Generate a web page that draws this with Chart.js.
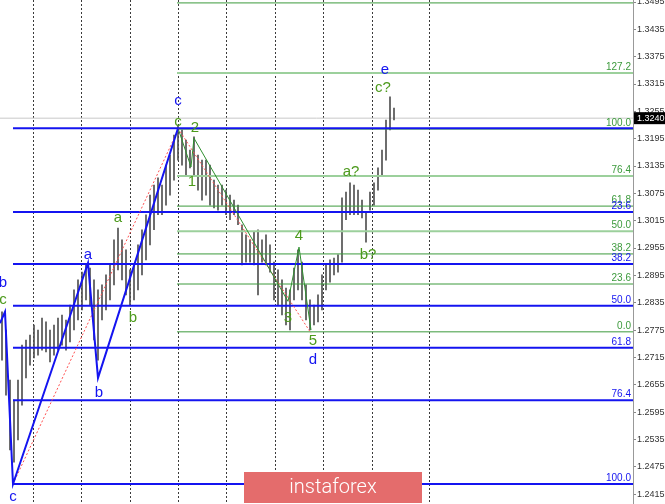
<!DOCTYPE html>
<html>
<head>
<meta charset="utf-8">
<script src="https://cdn.jsdelivr.net/npm/chart.js@4.4.1/dist/chart.umd.min.js"></script>
<style>
  html, body { margin: 0; padding: 0; background: #ffffff; }
  #wrap { width: 665px; height: 504px; }
</style>
</head>
<body>
<div id="wrap"><canvas id="chart" width="665" height="504"></canvas></div>
<script>
// right-hand price scale
const priceTicks = [1.2415, 1.2475, 1.2535, 1.2595, 1.2655, 1.2715, 1.2775, 1.2835, 1.2895,
  1.2955, 1.3015, 1.3075, 1.3135, 1.3195, 1.3255, 1.3315, 1.3375, 1.3435, 1.3495];
// day separators, in bar units
const daySeparators = [7.75, 19.75, 32, 44, 56, 68.25, 80.25, 92.5, 107];
const lastPrice = 1.3240;

// bars (high / low), one per slot
const barHigh = [
  1.2815, 1.2775, 1.2665, 1.2621, 1.2665, 1.2742, 1.2753, 1.2764, 1.2786, 1.2775,
  1.2801, 1.2793, 1.2775, 1.2786, 1.2801, 1.2808, 1.2797, 1.2830, 1.2863, 1.2885,
  1.2902, 1.2918, 1.2911, 1.2885, 1.2863, 1.2874, 1.2896, 1.2918, 1.2973, 1.2999,
  1.2973, 1.2951, 1.2907, 1.2918, 1.2962, 1.2995, 1.3028, 1.3071, 1.3093, 1.3109,
  1.3093, 1.3137, 1.3159, 1.3203, 1.3225, 1.3214, 1.3192, 1.3170, 1.3199, 1.3159,
  1.3148, 1.3148, 1.3137, 1.3104, 1.3093, 1.3093, 1.3082, 1.3071, 1.3060, 1.3049,
  1.3006, 1.2984, 1.2973, 1.2990, 1.2995, 1.2973, 1.2984, 1.2962, 1.2924, 1.2907,
  1.2885, 1.2867, 1.2863, 1.2911, 1.2951, 1.2924, 1.2874, 1.2841, 1.2830, 1.2852,
  1.2896, 1.2918, 1.2929, 1.2933, 1.2940, 1.3065, 1.3078, 1.3098, 1.3093, 1.3082,
  1.3060, 1.3034, 1.3078, 1.3098, 1.3131, 1.3170, 1.3236, 1.3287, 1.3262
];
const barLow = [
  1.2709, 1.2632, 1.2512, 1.2485, 1.2534, 1.2610, 1.2670, 1.2698, 1.2714, 1.2720,
  1.2731, 1.2727, 1.2705, 1.2720, 1.2731, 1.2742, 1.2731, 1.2749, 1.2775, 1.2797,
  1.2819, 1.2841, 1.2830, 1.2753, 1.2709, 1.2797, 1.2819, 1.2841, 1.2874, 1.2907,
  1.2885, 1.2852, 1.2830, 1.2841, 1.2863, 1.2896, 1.2929, 1.2962, 1.2995, 1.3028,
  1.3028, 1.3049, 1.3071, 1.3104, 1.3148, 1.3137, 1.3115, 1.3131, 1.3115, 1.3082,
  1.3060, 1.3071, 1.3049, 1.3043, 1.3038, 1.3049, 1.3028, 1.3017, 1.3028, 1.3006,
  1.2918, 1.2924, 1.2924, 1.2918, 1.2852, 1.2924, 1.2918, 1.2902, 1.2841, 1.2830,
  1.2808, 1.2786, 1.2775, 1.2841, 1.2863, 1.2841, 1.2797, 1.2775, 1.2786, 1.2793,
  1.2819, 1.2863, 1.2880, 1.2896, 1.2902, 1.2924, 1.3017, 1.3028, 1.3028, 1.3028,
  1.3021, 1.2968, 1.3038, 1.3049, 1.3082, 1.3115, 1.3148, 1.3214, 1.3236
];

// green fibo grid
const greenLevels = [1.2771, 1.2876, 1.2942, 1.2992, 1.3047, 1.3113, 1.3216, 1.3339, 1.3493];
const greenLabels = ["0.0", "23.6", "38.2", "50.0", "61.8", "76.4", "100.0", "127.2", "161.8"];
const greenHeavy = [false, false, false, true, false, true, false, true, false];
const greenStart = 43.75;
// blue fibo grid
const blueLevels = [1.3218, 1.3034, 1.2920, 1.2828, 1.2736, 1.2621, 1.2437];
const blueLabels = ["", "23.6", "38.2", "50.0", "61.8", "76.4", "100.0"];
const blueStart = 2.75;

// wave lines
const blueWaveX = [-0.5, 0.75, 2.75, 21.5, 24, 44];
const blueWaveY = [1.2790, 1.2815, 1.2437, 1.2922, 1.2670, 1.3218];
const greenWaveX = [44, 47.25, 48, 71.5, 74.25, 77.25];
const greenWaveY = [1.3218, 1.3133, 1.3196, 1.2838, 1.2957, 1.2775];
const redUpX = [2.75, 44];
const redUpY = [1.2437, 1.3214];
const redDownX = [44, 77.25];
const redDownY = [1.3218, 1.2768];

// wave labels
const blueMarks = ["b", "c", "a", "b", "c", "d", "e"];
const blueMarkX = [0.25, 2.75, 21.5, 24.25, 44, 77.75, 95.75];
const blueMarkY = [1.2878, 1.2408, 1.2940, 1.2637, 1.3278, 1.2709, 1.3346];
const greenMarks = ["c", "a", "b", "c", "2", "1", "3", "4", "5", "a?", "b?", "c?"];
const greenMarkX = [0.25, 29, 32.75, 44, 48.25, 47.5, 71.5, 74.25, 77.75, 87.25, 91.5, 95.25];
const greenMarkY = [1.2841, 1.3021, 1.2801, 1.3232, 1.3218, 1.3100, 1.2801, 1.2981, 1.2751, 1.3122, 1.2940, 1.3306];

const X_MIN = -0.5;
const X_MAX = 157.75;
const Y_MIN = 1.23931;
const Y_MAX = 1.34994;

const BLUE = "#1414f0";
const GREEN = "#3c9a3c";
const GREEN_LIGHT = "#9cd09c";
const LABEL_GREEN = "#4c9a1c";

function pts(xs, ys) {
  return xs.map((x, i) => ({ x: x, y: ys[i] }));
}

function hLine(y, from, color, width) {
  return {
    type: "line",
    data: [{ x: from, y: y }, { x: X_MAX, y: y }],
    borderColor: color,
    borderWidth: width,
    pointRadius: 0,
    order: 5,
  };
}

const datasets = [];

// bars
datasets.push({
  type: "bar",
  data: barHigh.map((h, i) => ({ x: i, y: [barLow[i], h] })),
  backgroundColor: "#505050",
  barThickness: 1,
  order: 8,
});

datasets.push(hLine(lastPrice, X_MIN, "#c8c8c8", 1));
datasets[datasets.length - 1].order = 9;

greenLevels.forEach((lvl, i) => {
  const ds = hLine(lvl, greenStart, greenHeavy[i] ? GREEN_LIGHT : GREEN, greenHeavy[i] ? 2 : 1);
  ds.order = 7;
  datasets.push(ds);
});
blueLevels.forEach((lvl) => {
  datasets.push(hLine(lvl, blueStart, BLUE, 2));
});

datasets.push({
  type: "line",
  data: pts(redUpX, redUpY),
  borderColor: "#ff5050",
  borderWidth: 1,
  borderDash: [2, 2],
  pointRadius: 0,
  order: 3,
});
datasets.push({
  type: "line",
  data: pts(redDownX, redDownY),
  borderColor: "#ff5050",
  borderWidth: 1,
  borderDash: [2, 2],
  pointRadius: 0,
  order: 3,
});
datasets.push({
  type: "line",
  data: pts(greenWaveX, greenWaveY),
  borderColor: "#2f8f2f",
  borderWidth: 1,
  pointRadius: 0,
  order: 2,
});
datasets.push({
  type: "line",
  data: pts(blueWaveX, blueWaveY),
  borderColor: BLUE,
  borderWidth: 2,
  pointRadius: 0,
  order: 1,
});

/**
 * Level captions, wave marks, price box and watermark
 */
const annotations = {
  id: "annotations",
  afterDatasetsDraw(chart) {
    const { ctx, chartArea, scales } = chart;
    const xs = scales.x;
    const ys = scales.y;
    ctx.save();

    // fibo captions
    ctx.font = "10px 'Liberation Sans', Arial, sans-serif";
    ctx.textAlign = "right";
    ctx.textBaseline = "bottom";
    greenLevels.forEach((lvl, i) => {
      ctx.fillStyle = GREEN;
      ctx.fillText(greenLabels[i], chartArea.right - 2, ys.getPixelForValue(lvl) - 1);
    });
    blueLevels.forEach((lvl, i) => {
      if (!blueLabels[i]) return;
      ctx.fillStyle = BLUE;
      ctx.fillText(blueLabels[i], chartArea.right - 2, ys.getPixelForValue(lvl) - 1);
    });

    // wave marks
    ctx.textAlign = "center";
    ctx.textBaseline = "middle";
    ctx.font = "15px 'Liberation Sans', Arial, sans-serif";
    blueMarks.forEach((t, i) => {
      ctx.fillStyle = BLUE;
      ctx.fillText(t, xs.getPixelForValue(blueMarkX[i]), ys.getPixelForValue(blueMarkY[i]));
    });
    greenMarks.forEach((t, i) => {
      ctx.fillStyle = LABEL_GREEN;
      ctx.fillText(t, xs.getPixelForValue(greenMarkX[i]), ys.getPixelForValue(greenMarkY[i]));
    });

    // watermark
    ctx.fillStyle = "#e46c6c";
    ctx.fillRect(244, 472, 178, 31);
    ctx.fillStyle = "#ffffff";
    ctx.font = "300 20px Roboto, 'Open Sans', sans-serif";
    ctx.fillText("instaforex", 333, 488);

    // last price box
    const py = ys.getPixelForValue(lastPrice);
    ctx.fillStyle = "#000000";
    ctx.fillRect(chartArea.right + 1, py - 6, 32, 12);
    ctx.fillStyle = "#ffffff";
    ctx.font = "9px 'Liberation Sans', Arial, sans-serif";
    ctx.textAlign = "left";
    ctx.fillText(lastPrice.toFixed(4), chartArea.right + 4, py);

    ctx.restore();
  },
};

new Chart(document.getElementById("chart").getContext("2d"), {
  type: "bar",
  data: { datasets: datasets },
  options: {
    responsive: false,
    animation: false,
    layout: { padding: 0 },
    plugins: {
      legend: { display: false },
      tooltip: { enabled: false },
    },
    scales: {
      x: {
        type: "linear",
        min: X_MIN,
        max: X_MAX,
        offset: false,
        afterBuildTicks: (scale) => {
          scale.ticks = daySeparators.map((v) => ({ value: v }));
        },
        afterFit: (scale) => {
          scale.height = 0;
          scale.paddingLeft = 0;
          scale.paddingRight = 0;
        },
        ticks: { display: false },
        grid: { offset: false, drawTicks: false, color: "#3a3a3a", lineWidth: 1 },
        border: { display: false, dash: [2, 2] },
      },
      y: {
        position: "right",
        min: Y_MIN,
        max: Y_MAX,
        afterBuildTicks: (scale) => {
          scale.ticks = priceTicks.map((v) => ({ value: v }));
        },
        afterFit: (scale) => {
          scale.width = 32;
          scale.paddingTop = 0;
          scale.paddingBottom = 0;
        },
        ticks: {
          color: "#333333",
          padding: 1,
          font: { family: "'Liberation Sans', Arial, sans-serif", size: 9 },
          callback: (v) => Number(v).toFixed(4),
        },
        grid: { drawOnChartArea: false, tickLength: 3, color: "#888888" },
        border: { display: true, color: "#999999" },
      },
    },
  },
  plugins: [annotations],
});
</script>
</body>
</html>
